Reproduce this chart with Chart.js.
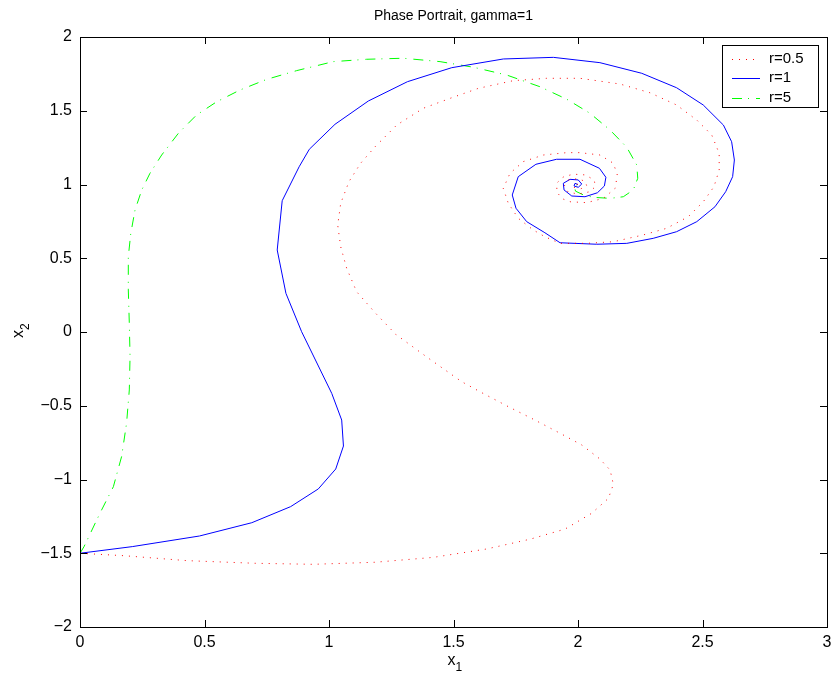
<!DOCTYPE html>
<html>
<head>
    <title>Phase Portrait</title>
    <script src="https://cdn.jsdelivr.net/npm/chart.js@4.4.1/dist/chart.umd.min.js"></script>
    <style>
        body { margin: 0; background: #fff; }
        #wrap { width: 832px; height: 677px; }
    </style>
</head>
<body>
    <div id="wrap">
        <canvas id="phase" width="832" height="677"></canvas>
    </div>
    <script type="text/javascript">
    // axis ticks
    var xTicks = [0, 0.5, 1, 1.5, 2, 2.5, 3];
    var xTickLabels = ["0", "0.5", "1", "1.5", "2", "2.5", "3"];
    var yTicks = [-2, -1.5, -1, -0.5, 0, 0.5, 1, 1.5, 2];
    var yTickLabels = ["\u22122", "\u22121.5", "\u22121", "\u22120.5", "0", "0.5", "1", "1.5", "2"];

    var seriesNames = ["r=0.5", "r=1", "r=5"];

    // r=0.5 (red dotted)
    var r05X = [0, 0.18, 0.428, 0.703, 0.937, 1.185, 1.419, 1.633, 1.807, 1.948,
        2.055, 2.122, 2.142, 2.129, 2.088, 2.015, 1.934, 1.827, 1.720, 1.613,
        1.533, 1.398, 1.268, 1.185, 1.111, 1.071, 1.047, 1.035, 1.047, 1.080,
        1.127, 1.185, 1.272, 1.379, 1.486, 1.600, 1.740, 1.874, 2.008, 2.169,
        2.289, 2.396, 2.477, 2.537, 2.567, 2.567, 2.546, 2.503, 2.443, 2.356,
        2.262, 2.142, 2.035, 1.928, 1.867, 1.820, 1.760, 1.720, 1.700, 1.727,
        1.780, 1.861, 1.955, 2.008, 2.088, 2.142, 2.158, 2.149, 2.102, 2.035,
        1.968, 1.935, 1.915, 1.915, 1.94, 1.98, 2.03, 2.065, 2.07, 2.045,
        2.0, 1.96, 1.945, 1.96, 2.0, 2.03, 2.035, 2.01, 1.985, 1.985, 2.0];
    var r05Y = [-1.5, -1.517, -1.55, -1.568, -1.575, -1.561, -1.528, -1.471, -1.405, -1.336,
        -1.229, -1.128, -1.033, -0.936, -0.861, -0.766, -0.692, -0.597, -0.506, -0.411,
        -0.337, -0.176, -0.016, 0.131, 0.273, 0.432, 0.578, 0.725, 0.872, 1.019,
        1.144, 1.256, 1.403, 1.517, 1.584, 1.652, 1.704, 1.720, 1.720, 1.681,
        1.622, 1.539, 1.437, 1.336, 1.211, 1.098, 0.985, 0.883, 0.782, 0.703,
        0.658, 0.612, 0.601, 0.601, 0.646, 0.692, 0.771, 0.873, 0.974, 1.076,
        1.155, 1.2, 1.216, 1.216, 1.2, 1.144, 1.064, 0.974, 0.906, 0.877,
        0.883, 0.905, 0.95, 1.01, 1.05, 1.07, 1.065, 1.03, 0.985, 0.95,
        0.935, 0.95, 0.99, 1.03, 1.04, 1.02, 0.99, 0.97, 0.98, 1.005, 1.0];

    // r=1 (blue solid)
    var r1X = [0, 0.21, 0.48, 0.69, 0.846, 0.957, 1.027, 1.058, 1.051, 1.011,
        0.89, 0.827, 0.792, 0.812, 0.88, 0.921, 1.024, 1.158, 1.315, 1.493,
        1.70, 1.901, 2.088, 2.256, 2.396, 2.503, 2.584, 2.617, 2.628, 2.621,
        2.593, 2.55, 2.477, 2.396, 2.302, 2.196, 2.075, 1.928, 1.867, 1.794,
        1.751, 1.736, 1.760, 1.831, 1.914, 2.008, 2.086, 2.112, 2.106, 2.078,
        2.028, 1.975, 1.944, 1.941, 1.968, 2.001, 2.015, 2.001, 1.984, 1.988, 2.0];
    var r1Y = [-1.5, -1.455, -1.383, -1.293, -1.184, -1.064, -0.929, -0.773, -0.597, -0.416,
        0.002, 0.262, 0.556, 0.89, 1.12, 1.239, 1.408, 1.566, 1.697, 1.792,
        1.851, 1.862, 1.826, 1.754, 1.656, 1.539, 1.403, 1.290, 1.166, 1.053,
        0.951, 0.849, 0.748, 0.68, 0.635, 0.601, 0.595, 0.605, 0.673, 0.748,
        0.839, 0.929, 1.053, 1.137, 1.171, 1.171, 1.110, 1.049, 0.990, 0.944,
        0.917, 0.922, 0.963, 1.008, 1.035, 1.031, 1.003, 0.981, 0.99, 1.008, 1.0];

    // r=5 (green dash-dot)
    var r5X = [0, 0.016, 0.08, 0.134, 0.167, 0.187, 0.198, 0.201, 0.198, 0.194,
        0.194, 0.204, 0.221, 0.248, 0.281, 0.328, 0.395, 0.468, 0.549, 0.643,
        0.75, 0.87, 1.017, 1.151, 1.298, 1.446, 1.580, 1.714, 1.847, 1.955,
        2.048, 2.129, 2.196, 2.236, 2.240, 2.222, 2.182, 2.129, 2.062, 2.022,
        1.99, 1.985, 2.0];
    var r5Y = [-1.5, -1.456, -1.229, -1.049, -0.845, -0.619, -0.393, -0.167, 0.059, 0.285,
        0.511, 0.669, 0.827, 0.963, 1.076, 1.2, 1.347, 1.471, 1.561, 1.641,
        1.713, 1.772, 1.833, 1.849, 1.856, 1.833, 1.795, 1.742, 1.663, 1.578,
        1.483, 1.369, 1.252, 1.132, 1.042, 0.963, 0.917, 0.906, 0.913, 0.929,
        0.955, 0.99, 1.0];

    var FONT = "'Liberation Sans', Arial, Helvetica, sans-serif";

    function toPoints(xs, ys) {
        var pts = [];
        for (var i = 0; i < xs.length && i < ys.length; i++) {
            pts.push({ x: xs[i], y: ys[i] });
        }
        return pts;
    }

    var lineStyles = [
        { color: "#ff0000", dash: [1, 6] },
        { color: "#0000ff", dash: [] },
        { color: "#00ff00", dash: [10, 6, 1, 7] }
    ];

    // box, inward ticks, title, axis labels and legend, MATLAB style
    var matlabFrame = {
        id: "matlabFrame",
        afterDraw: function(chart) {
            var ctx = chart.ctx;
            var a = chart.chartArea;
            var xs = chart.scales.x, ys = chart.scales.y;
            ctx.save();
            ctx.strokeStyle = "#000";
            ctx.lineWidth = 1;
            ctx.setLineDash([]);
            ctx.strokeRect(Math.round(a.left) + 0.5, Math.round(a.top) + 0.5,
                Math.round(a.right - a.left), Math.round(a.bottom - a.top));

            ctx.beginPath();
            xTicks.forEach(function(v) {
                var px = Math.round(xs.getPixelForValue(v)) + 0.5;
                ctx.moveTo(px, a.bottom); ctx.lineTo(px, a.bottom - 7);
                ctx.moveTo(px, a.top); ctx.lineTo(px, a.top + 7);
            });
            yTicks.forEach(function(v) {
                var py = Math.round(ys.getPixelForValue(v)) + 0.5;
                ctx.moveTo(a.left, py); ctx.lineTo(a.left + 7, py);
                ctx.moveTo(a.right, py); ctx.lineTo(a.right - 7, py);
            });
            ctx.stroke();

            ctx.fillStyle = "#000";
            // title
            var cx = (a.left + a.right) / 2;
            ctx.font = "14px " + FONT;
            ctx.textAlign = "center";
            ctx.textBaseline = "middle";
            ctx.fillText("Phase Portrait, gamma=1", cx, 16);

            // x label with subscript
            ctx.font = "16px " + FONT;
            ctx.textAlign = "left";
            ctx.textBaseline = "alphabetic";
            ctx.fillText("x", cx - 6, 665);
            ctx.font = "12px " + FONT;
            ctx.fillText("1", cx + 2, 671);

            // y label, rotated
            ctx.save();
            ctx.translate(23, (a.top + a.bottom) / 2);
            ctx.rotate(-Math.PI / 2);
            ctx.font = "16px " + FONT;
            ctx.fillText("x", -6, 0);
            ctx.font = "12px " + FONT;
            ctx.fillText("2", 2, 6);
            ctx.restore();

            // legend
            var lx = 722, ly = 45, lw = 96, lh = 62;
            ctx.fillStyle = "#fff";
            ctx.fillRect(lx, ly, lw, lh);
            ctx.strokeStyle = "#000";
            ctx.strokeRect(lx + 0.5, ly + 0.5, lw, lh);
            ctx.font = "15px " + FONT;
            ctx.textBaseline = "middle";
            for (var i = 0; i < seriesNames.length; i++) {
                var rowY = ly + 13.5 + i * 19.5;
                ctx.strokeStyle = lineStyles[i].color;
                ctx.setLineDash(lineStyles[i].dash);
                ctx.beginPath();
                ctx.moveTo(lx + 10, Math.round(rowY) + 0.5);
                ctx.lineTo(lx + 38, Math.round(rowY) + 0.5);
                ctx.stroke();
                ctx.fillStyle = "#000";
                ctx.fillText(seriesNames[i], lx + 47, rowY);
            }
            ctx.restore();
        }
    };

    var datasets = [
        toPoints(r05X, r05Y),
        toPoints(r1X, r1Y),
        toPoints(r5X, r5Y)
    ].map(function(pts, i) {
        return {
            label: seriesNames[i],
            data: pts,
            showLine: true,
            fill: false,
            tension: 0,
            pointRadius: 0,
            borderWidth: 1,
            borderColor: lineStyles[i].color,
            borderDash: lineStyles[i].dash
        };
    });

    new Chart(document.getElementById("phase"), {
        type: "scatter",
        data: { datasets: datasets },
        options: {
            responsive: false,
            animation: false,
            layout: { padding: { left: 0, right: 5, top: 37, bottom: 0 } },
            plugins: {
                legend: { display: false },
                tooltip: { enabled: false }
            },
            scales: {
                x: {
                    type: "linear",
                    min: 0,
                    max: 3,
                    grid: { display: false, drawTicks: false },
                    border: { display: false },
                    afterBuildTicks: function(scale) {
                        scale.ticks = xTicks.map(function(v) { return { value: v }; });
                    },
                    afterFit: function(scale) {
                        scale.height = 50;
                        scale.paddingLeft = 0;
                        scale.paddingRight = 0;
                    },
                    ticks: {
                        autoSkip: false,
                        maxRotation: 0,
                        padding: 6,
                        color: "#000",
                        font: { family: FONT, size: 16 },
                        callback: function(v, i) { return xTickLabels[i]; }
                    }
                },
                y: {
                    type: "linear",
                    min: -2,
                    max: 2,
                    grid: { display: false, drawTicks: false },
                    border: { display: false },
                    afterBuildTicks: function(scale) {
                        scale.ticks = yTicks.map(function(v) { return { value: v }; });
                    },
                    afterFit: function(scale) {
                        scale.width = 80;
                        scale.paddingTop = 0;
                        scale.paddingBottom = 0;
                    },
                    ticks: {
                        autoSkip: false,
                        padding: 8,
                        color: "#000",
                        font: { family: FONT, size: 16 },
                        callback: function(v, i) { return yTickLabels[i]; }
                    }
                }
            }
        },
        plugins: [matlabFrame]
    });
    </script>
</body>
</html>
